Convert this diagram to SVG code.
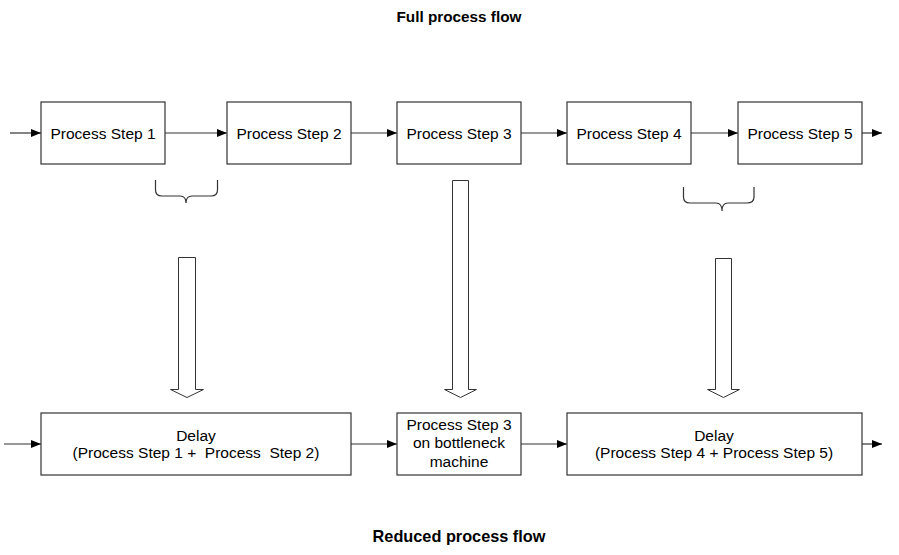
<svg xmlns="http://www.w3.org/2000/svg" width="899" height="555" viewBox="0 0 899 555">
<defs>
<marker id="ah" viewBox="0 0 10 8" refX="10" refY="4" markerWidth="10" markerHeight="8" markerUnits="userSpaceOnUse" orient="auto">
<path d="M0,0 L10,4 L0,8 z" fill="#000"/>
</marker>
</defs>
<style>
.box{fill:#fff;stroke:#333;stroke-width:1.2}
.t{font-family:"Liberation Sans",Arial,sans-serif;font-size:15.5px;fill:#000;text-anchor:middle}
.title{font-family:"Liberation Sans",Arial,sans-serif;font-size:15.3px;font-weight:bold;fill:#000;text-anchor:middle}
.c{stroke:#333;stroke-width:1.2;fill:none}
.blk{fill:#fff;stroke:#333;stroke-width:1}
</style>
<rect width="899" height="555" fill="#fff"/>
<text class="title" x="459" y="22">Full process flow</text>
<text class="title" x="459" y="542" style="font-size:16.3px">Reduced process flow</text>
<g id="connectors">
<line class="c" x1="10" y1="133" x2="41" y2="133" marker-end="url(#ah)"/>
<line class="c" x1="165" y1="133" x2="227" y2="133" marker-end="url(#ah)"/>
<line class="c" x1="351" y1="133" x2="397" y2="133" marker-end="url(#ah)"/>
<line class="c" x1="521" y1="133" x2="567" y2="133" marker-end="url(#ah)"/>
<line class="c" x1="691" y1="133" x2="738" y2="133" marker-end="url(#ah)"/>
<line class="c" x1="862" y1="133" x2="882" y2="133" marker-end="url(#ah)"/>
<line class="c" x1="4" y1="444" x2="41" y2="444" marker-end="url(#ah)"/>
<line class="c" x1="351" y1="444" x2="397" y2="444" marker-end="url(#ah)"/>
<line class="c" x1="521" y1="444" x2="567" y2="444" marker-end="url(#ah)"/>
<line class="c" x1="862" y1="444" x2="882" y2="444" marker-end="url(#ah)"/>
<path class="c" d="M155.5,180 V190 Q155.5,196 162,196 H180 Q186,196 186,203 Q186,196 192,196 H211 Q217.5,196 217.5,190 V180"/>
<path class="c" d="M683.5,187 V197 Q683.5,203 690,203 H716 Q722,203 722,211 Q722,203 728,203 H747 Q754,203 754,197 V187"/>
<path class="blk" d="M178.5,257.5 H195.5 V389.5 H203.5 L187,397.5 L170.5,389.5 H178.5 Z"/>
<path class="blk" d="M452.5,180.5 H468.5 V389.5 H476.5 L460.5,397.5 L444.5,389.5 H452.5 Z"/>
<path class="blk" d="M715.5,258.5 H731.5 V389.5 H739.5 L723.5,397.5 L707.5,389.5 H715.5 Z"/>
</g>
<g id="step1"><rect class="box" x="41" y="102" width="124" height="62"/><text class="t" x="103" y="139">Process Step 1</text></g>
<g id="step2"><rect class="box" x="227" y="102" width="124" height="62"/><text class="t" x="289" y="139">Process Step 2</text></g>
<g id="step3"><rect class="box" x="397" y="102" width="124" height="62"/><text class="t" x="459" y="139">Process Step 3</text></g>
<g id="step4"><rect class="box" x="567" y="102" width="124" height="62"/><text class="t" x="629" y="139">Process Step 4</text></g>
<g id="step5"><rect class="box" x="738" y="102" width="124" height="62"/><text class="t" x="800" y="139">Process Step 5</text></g>
<g id="delay12"><rect class="box" x="41" y="413" width="310" height="62"/><text class="t" x="196" y="441">Delay</text><text class="t" x="196" y="458" xml:space="preserve">(Process Step 1 +  Process  Step 2)</text></g>
<g id="bottleneck"><rect class="box" x="397" y="413" width="124" height="62"/><text class="t" x="459" y="430">Process Step 3</text><text class="t" x="459" y="448">on bottleneck</text><text class="t" x="459" y="467">machine</text></g>
<g id="delay45"><rect class="box" x="567" y="413" width="295" height="62"/><text class="t" x="714" y="441">Delay</text><text class="t" x="714" y="458">(Process Step 4 + Process Step 5)</text></g>
</svg>
